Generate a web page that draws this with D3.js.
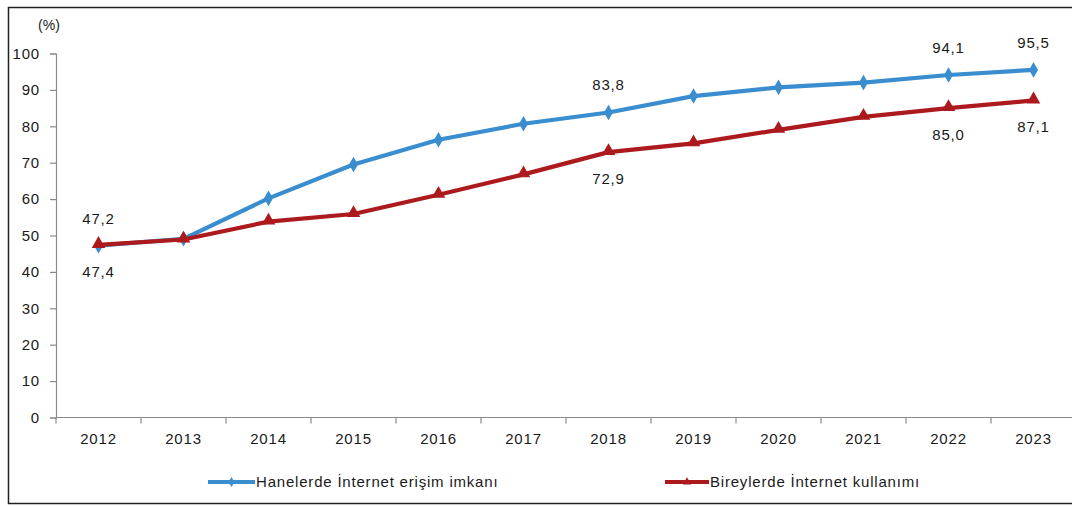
<!DOCTYPE html>
<html><head><meta charset="utf-8">
<script src="https://cdn.jsdelivr.net/npm/d3@7"></script>
<style>
html,body{margin:0;padding:0;background:#fff;}
svg{display:block;font-family:"Liberation Sans",Arial,sans-serif;}
</style></head>
<body>
<svg id="chart" width="1072" height="506"></svg>
<script>
const years = ["2012","2013","2014","2015","2016","2017","2018","2019","2020","2021","2022","2023"];
const households = [47.2,49.1,60.2,69.5,76.3,80.7,83.8,88.3,90.7,92.0,94.1,95.5];
const individuals = [47.4,48.9,53.8,55.9,61.2,66.8,72.9,75.3,79.0,82.6,85.0,87.1];
const seriesNames = ["Hanelerde İnternet erişim imkanı","Bireylerde İnternet kullanımı"];
const yTicks = [0,10,20,30,40,50,60,70,80,90,100];
// labelled points: [series index, year index, position]
const labelled = [[0,0,"above"],[1,0,"below"],[0,6,"above"],[1,6,"below"],[0,10,"above"],[1,10,"below"],[0,11,"above"],[1,11,"below"]];

const colors = ["#3a8dcf","#ad1a1e"];
const svg = d3.select("#chart");

svg.append("rect").attr("x",8.5).attr("y",7.5).attr("width",1080).attr("height",496)
  .attr("fill","#fff").attr("stroke","#222").attr("stroke-width",1.5);

const x = d3.scaleBand().domain(years).range([56,1076]);
const y = d3.scaleLinear().domain([0,100]).range([417.5,53.5]);

const fontSize = 15;
const ink = "#1a1a1a";
// y axis
const yAxis = svg.append("g").attr("transform","translate(56,0)")
  .call(d3.axisLeft(y).tickValues(yTicks).tickSize(6).tickPadding(10).tickFormat(d3.format("d")));
yAxis.select(".domain").attr("stroke","#8a8a8a").attr("stroke-width",1.2);
yAxis.selectAll(".tick line").attr("stroke","#8a8a8a").attr("stroke-width",1.2);
yAxis.selectAll("text").attr("font-size",fontSize).attr("fill",ink).attr("letter-spacing","0.8px")
  .attr("font-family","Liberation Sans, Arial, sans-serif");

// x axis
const xAxisG = svg.append("g").attr("transform","translate(0,417.5)");
xAxisG.append("line").attr("x1",56).attr("x2",1076).attr("stroke","#8a8a8a").attr("stroke-width",1.2);
const bounds = years.map(yr => x(yr)).concat([x.range()[1]]);
xAxisG.selectAll(".xt").data(bounds).join("line").attr("class","xt")
  .attr("x1",d=>d).attr("x2",d=>d).attr("y1",0).attr("y2",6)
  .attr("stroke","#8a8a8a").attr("stroke-width",1.2);
xAxisG.selectAll(".xl").data(years).join("text").attr("class","xl")
  .attr("x",d=>x(d)+x.bandwidth()/2).attr("y",26)
  .attr("text-anchor","middle").attr("font-size",fontSize).attr("fill",ink)
  .attr("letter-spacing","0.8px").text(d=>d);

svg.append("text").attr("x",49).attr("y",30).attr("text-anchor","middle")
  .attr("font-size",14).attr("fill",ink).text("(%)");

const cx = d => x(d)+x.bandwidth()/2;
const data = [households, individuals];
const line = d3.line().x((d,i)=>cx(years[i])).y(d=>y(d));
data.forEach((vals,si)=>{
  svg.append("path").attr("d",line(vals)).attr("fill","none")
    .attr("stroke",colors[si]).attr("stroke-width",4.2).attr("stroke-linejoin","round");
});
const diamond = d3.symbol().type(d3.symbolDiamond).size(70);
const tri = d3.symbol().type(d3.symbolTriangle).size(80);
svg.selectAll(".m0").data(households).join("path").attr("class","m0")
  .attr("transform",(d,i)=>`translate(${cx(years[i])},${y(d)})`).attr("d",diamond()).attr("fill",colors[0]);
svg.selectAll(".m1").data(individuals).join("path").attr("class","m1")
  .attr("transform",(d,i)=>`translate(${cx(years[i])},${y(d)-1})`).attr("d",tri()).attr("fill",colors[1]);

const fmt = v => v.toFixed(1).replace(".",",");
labelled.forEach(([si,yi,pos])=>{
  const v = data[si][yi];
  svg.append("text").attr("x",cx(years[yi])).attr("y",y(v)+(pos==="above"?-22:32))
    .attr("text-anchor","middle").attr("font-size",fontSize).attr("fill",ink)
    .attr("letter-spacing","0.8px").text(fmt(v));
});

// legend
const legend = [[208,255],[665,709]];
legend.forEach(([x1,x2],si)=>{
  const g = svg.append("g");
  g.append("line").attr("x1",x1).attr("x2",x2).attr("y1",482).attr("y2",482)
    .attr("stroke",colors[si]).attr("stroke-width",4);
  g.append("path").attr("transform",`translate(${(x1+x2)/2},482)`)
    .attr("d",(si===0?d3.symbol().type(d3.symbolDiamond).size(30):d3.symbol().type(d3.symbolTriangle).size(30))())
    .attr("fill",colors[si]);
  g.append("text").attr("x",x2+1).attr("y",487).attr("font-size",fontSize).attr("fill",ink)
    .attr("letter-spacing","0.8px").text(seriesNames[si]);
});
</script>
</body></html>
